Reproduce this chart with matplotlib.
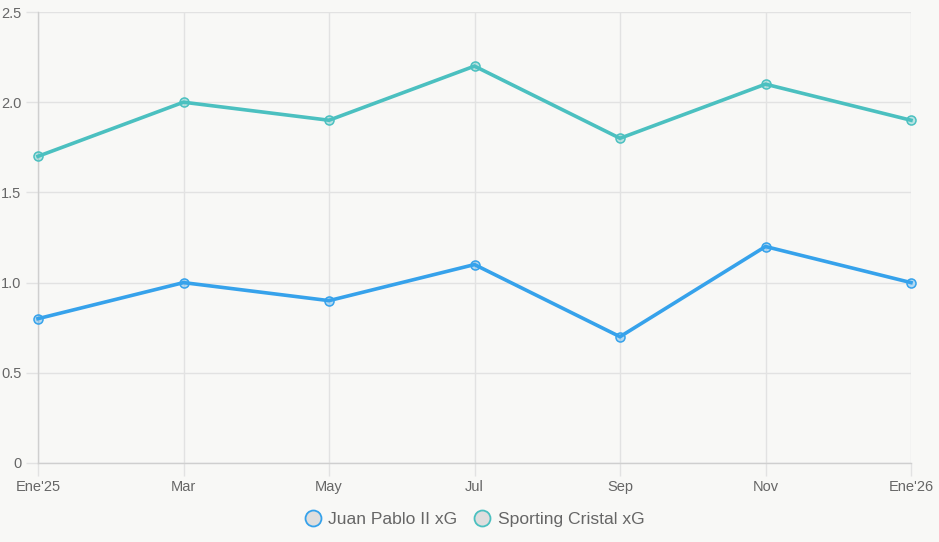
import matplotlib as mpl
import matplotlib.pyplot as plt
from matplotlib.lines import Line2D

mpl.rcParams.update({
    'font.family': ['Liberation Sans', 'DejaVu Sans'],
})

# data
months = ["Ene'25", 'Mar', 'May', 'Jul', 'Sep', 'Nov', "Ene'26"]
juan_pablo = [0.8, 1.0, 0.9, 1.1, 0.7, 1.2, 1.0]
sporting = [1.7, 2.0, 1.9, 2.2, 1.8, 2.1, 1.9]
y_ticks = [0, 0.5, 1.0, 1.5, 2.0, 2.5]
y_labels = ['0', '0.5', '1.0', '1.5', '2.0', '2.5']

BG = '#f8f8f6'
BLUE = '#36a2eb'
TEAL = '#4bc0c0'
GRID = '#e2e2e2'
TXT = '#666666'

fig = plt.figure(figsize=(9.39, 5.42), dpi=100, facecolor=BG)
ax = fig.add_axes([38 / 939, 1 - 463 / 542, (911 - 38) / 939, (463 - 12) / 542])
ax.set_facecolor(BG)

x = list(range(len(months)))
for vals, col in [(juan_pablo, BLUE), (sporting, TEAL)]:
    ax.plot(x, vals, color=col, lw=2.6, zorder=3, clip_on=False,
            marker='o', ms=6.5, mfc=(*mpl.colors.to_rgb(col), 0.35),
            mec=col, mew=1.1, solid_joinstyle='miter')

ax.set_xlim(0, len(months) - 1)
ax.set_ylim(0, 2.5)
ax.set_xticks(x)
ax.set_xticklabels(months)
ax.set_yticks(y_ticks)
ax.set_yticklabels(y_labels)

ax.grid(True, color=GRID, lw=1.0, zorder=0)
for side in ['top', 'right']:
    ax.spines[side].set_visible(False)
for side in ['left', 'bottom']:
    ax.spines[side].set_color('#cfcfcf')
    ax.spines[side].set_linewidth(1.0)

ax.tick_params(axis='both', colors=GRID, labelcolor=TXT, labelsize=10.5,
               length=9, width=1.0)
ax.tick_params(axis='y', pad=3)
ax.tick_params(axis='x', pad=3)

handles = [
    Line2D([], [], ls='none', marker='o', ms=11.5, mfc='#dedede', mec=BLUE, mew=1.3),
    Line2D([], [], ls='none', marker='o', ms=11.5, mfc='#dedede', mec=TEAL, mew=1.3),
]
fig.legend(handles, ['Juan Pablo II xG', 'Sporting Cristal xG'],
           loc='center', bbox_to_anchor=(0.505, 0.042), ncol=2, frameon=False,
           fontsize=12.6, labelcolor=TXT, handletextpad=0.4, columnspacing=0.9,
           handlelength=1.0)

fig.savefig('out.png', dpi=100, facecolor=BG)
